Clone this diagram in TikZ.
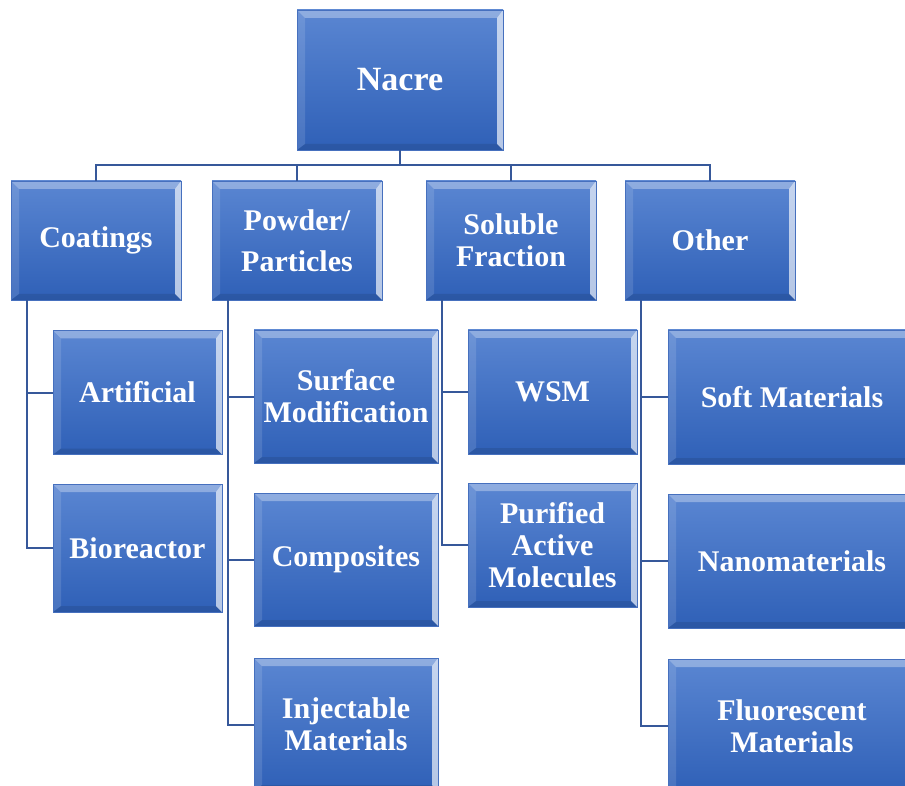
\documentclass[tikz,border=0pt]{standalone}
\usepackage{fontspec}
\setmainfont{Liberation Serif}
\usetikzlibrary{positioning,calc}
\definecolor{boxtop}{HTML}{5A86D2}
\definecolor{boxbottom}{HTML}{2F60B7}
\definecolor{boxedge}{HTML}{4670BE}
\definecolor{linkcolor}{HTML}{36589A}

\begin{document}
\begin{tikzpicture}[
    x=1pt, y=-1pt,
    catbox/.style={
        rectangle,
        draw=boxedge,
        line width=0.8pt,
        top color=boxtop,
        bottom color=boxbottom,
        text=white,
        align=center,
        inner sep=2pt,
        font=\fontsize{30}{32}\selectfont\bfseries,
        path picture={
            % bevel: light top, pale right, soft left, dark bottom
            \fill[white, opacity=0.32] (path picture bounding box.north west) -- (path picture bounding box.north east)
                -- ([shift={(-6pt,-8pt)}]path picture bounding box.north east) -- ([shift={(8pt,-8pt)}]path picture bounding box.north west) -- cycle;
            \fill[white, opacity=0.65] (path picture bounding box.north east) -- (path picture bounding box.south east)
                -- ([shift={(-6pt,6pt)}]path picture bounding box.south east) -- ([shift={(-6pt,-8pt)}]path picture bounding box.north east) -- cycle;
            \fill[white, opacity=0.12] (path picture bounding box.north west) -- ([shift={(8pt,-8pt)}]path picture bounding box.north west)
                -- ([shift={(8pt,6pt)}]path picture bounding box.south west) -- (path picture bounding box.south west) -- cycle;
            \fill[black, opacity=0.10] (path picture bounding box.south west) -- ([shift={(8pt,6pt)}]path picture bounding box.south west)
                -- ([shift={(-6pt,6pt)}]path picture bounding box.south east) -- (path picture bounding box.south east) -- cycle;
        }
    },
    rootbox/.style={catbox, minimum width=206, minimum height=140, font=\fontsize{34}{36}\selectfont\bfseries},
    headbox/.style={catbox, minimum width=170, minimum height=119},
    subbox/.style={catbox, minimum width=169, minimum height=124},
    widebox/.style={catbox, minimum width=184, minimum height=133},
    bigbox/.style={catbox, minimum width=248, minimum height=134},
    link/.style={draw=linkcolor, line width=2pt}
]

\useasboundingbox (0,0) rectangle (905,786);
\clip (0,0) rectangle (905,786);

% --- ROOT ---
\node[rootbox] (nacre) at (400, 80) {Nacre};
\coordinate (bar) at (400, 165);

% --- CATEGORIES ---
\node[headbox] (coat) at (96, 240.5) {Coatings};
\node[headbox] (powder) at (297, 240.5) {Powder/\\[9pt]Particles};
\node[headbox] (soluble) at (511, 240.5) {Soluble\\Fraction};
\node[headbox] (other) at (710, 240.5) {Other};

% --- COATINGS ---
\node[subbox] (artif) at (137.5, 392.5) {Artificial};
\node[subbox, minimum height=128] (biore) at (137.5, 548) {Bioreactor};

% --- POWDER / PARTICLES ---
\node[widebox] (surf) at (346, 396.5) {Surface\\Modification};
\node[widebox] (compo) at (346, 559.5) {Composites};
\node[widebox] (inject) at (346, 724.5) {Injectable\\Materials};

% --- SOLUBLE FRACTION ---
\node[subbox] (wsm) at (552.5, 392) {WSM};
\node[subbox] (purif) at (552.5, 545) {Purified\\Active\\Molecules};

% --- OTHER ---
\node[bigbox] (soft) at (792, 397) {Soft Materials};
\node[bigbox] (nano) at (792, 561) {Nanomaterials};
\node[bigbox] (fluor) at (792, 726) {Fluorescent\\Materials};

% --- LINKS ---
\draw[link] (nacre.south) -- (bar);
\foreach \cat in {coat, powder, soluble, other}
    \draw[link] (\cat.north) |- (bar);

\foreach \cat/\kid in {coat/artif, coat/biore,
                       powder/surf, powder/compo, powder/inject,
                       soluble/wsm, soluble/purif,
                       other/soft, other/nano, other/fluor}
    \draw[link] ([xshift=16.5pt]\cat.south west) |- (\kid.west);

\end{tikzpicture}
\end{document}
